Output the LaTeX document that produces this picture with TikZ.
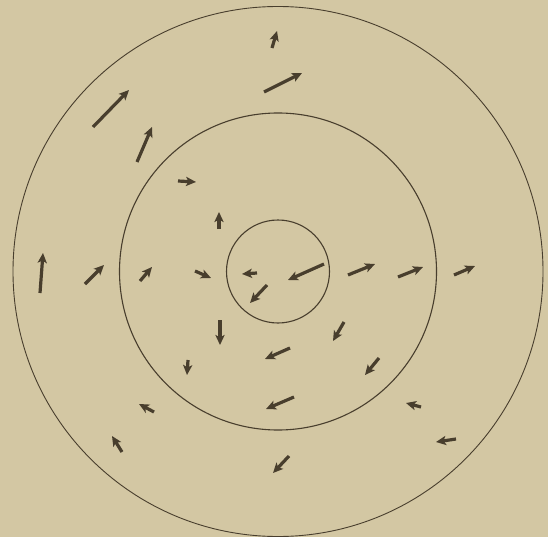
\documentclass[tikz,border=0pt]{standalone}
\usepackage{xcolor}
\definecolor{fieldbg}{RGB}{211,199,163}
\definecolor{fieldink}{RGB}{72,62,45}
\usetikzlibrary{arrows.meta}

\begin{document}
\begin{tikzpicture}[x=0.5mm, y=-0.5mm,
    ring/.style={draw=fieldink, line width=0.55mm},
    vec/.style={draw=fieldink, line width=1.6mm,
      -{Stealth[length=5mm, width=4.6mm, inset=1.2mm]}}]
    % Page
    \fill[fieldbg] (0,0) rectangle (548,537);
    \useasboundingbox (0,0) rectangle (548,537);
    \coordinate (ctr) at (278,271.5);

    % Rings
    \draw[ring, line width=0.45mm] (ctr) circle (132.5mm);
    \draw[ring] (ctr) circle (79.25mm);
    \draw[ring] (ctr) circle (25.75mm);

    % Inner disc
    \draw[vec] (257,273) -- (242,274);
    \draw[vec] (267,285) -- (250,303);
    \draw[vec] (324,264) -- (288,280);

    % Middle ring
    \draw[vec] (178,181) -- (196,182);
    \draw[vec] (219,229) -- (219,212);
    \draw[vec] (140,281) -- (152,267);
    \draw[vec] (195,271) -- (211,278);
    \draw[vec] (348,275) -- (375,264);
    \draw[vec] (398,277) -- (423,267);
    \draw[vec] (220,320) -- (220,345);
    \draw[vec] (188,360) -- (187,375);
    \draw[vec] (344,322) -- (333,341);
    \draw[vec] (379,358) -- (365,375);
    \draw[vec] (290,348) -- (265,359);
    \draw[vec] (294,397) -- (266,409);

    % Outer ring
    \draw[vec] (93,127) -- (129,90);
    \draw[vec] (137,162) -- (152,127);
    \draw[vec] (264,92) -- (302,73);
    \draw[vec] (272,48) -- (277,31);
    \draw[vec] (40,293) -- (43,253);
    \draw[vec] (85,284) -- (104,265);
    \draw[vec] (454,275) -- (475,266);
    \draw[vec] (154,412) -- (139,404);
    \draw[vec] (122,452) -- (112,436);
    \draw[vec] (421,407) -- (406,403);
    \draw[vec] (456,439) -- (436,442);
    \draw[vec] (289,456) -- (273,473);
  \end{tikzpicture}
\end{document}
